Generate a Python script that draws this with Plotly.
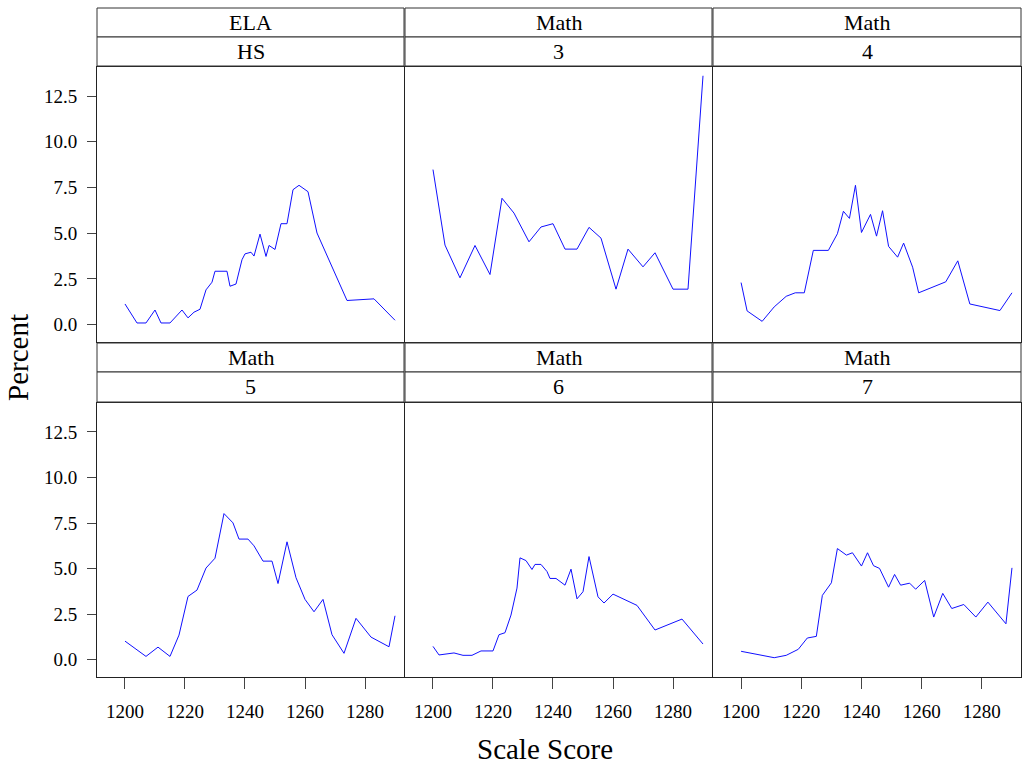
import plotly.graph_objects as go

# ---------------- data ----------------
ela_hs_x = [1200, 1204, 1207, 1210, 1212, 1215, 1219, 1221, 1223, 1225, 1227, 1229, 1230, 1234, 1235,
            1237, 1239, 1240, 1242, 1243, 1245, 1247, 1248, 1250, 1252, 1254, 1256, 1258, 1261, 1264,
            1274, 1283, 1290]
ela_hs_y = [1.13, 0.09, 0.09, 0.80, 0.09, 0.09, 0.80, 0.37, 0.68, 0.84, 1.90, 2.32, 2.92, 2.92, 2.10,
            2.22, 3.55, 3.87, 3.96, 3.75, 4.95, 3.73, 4.33, 4.11, 5.52, 5.52, 7.38, 7.62, 7.27, 5.01,
            1.32, 1.41, 0.24]

math3_x = [1200, 1204, 1209, 1214, 1219, 1223, 1227, 1232, 1236, 1240, 1244, 1248, 1252, 1256, 1261,
           1265, 1270, 1274, 1280, 1285, 1290]
math3_y = [8.48, 4.35, 2.56, 4.33, 2.74, 6.91, 6.10, 4.53, 5.34, 5.52, 4.13, 4.13, 5.32, 4.73, 1.94,
           4.13, 3.16, 3.93, 1.94, 1.94, 13.61]

math4_x = [1200, 1202, 1207, 1211, 1215, 1218, 1221, 1224, 1229, 1232, 1234, 1236, 1238, 1240, 1243,
           1245, 1247, 1249, 1252, 1254, 1257, 1259, 1268, 1272, 1276, 1286, 1290]
math4_y = [2.30, 0.75, 0.18, 0.97, 1.55, 1.74, 1.74, 4.06, 4.06, 4.97, 6.20, 5.81, 7.62, 5.04, 6.03,
           4.84, 6.23, 4.28, 3.69, 4.46, 3.14, 1.74, 2.34, 3.49, 1.13, 0.77, 1.74]

math5_x = [1200, 1207, 1211, 1215, 1218, 1221, 1224, 1227, 1230, 1233, 1236, 1238, 1241, 1243, 1246,
           1249, 1251, 1254, 1257, 1260, 1263, 1266, 1269, 1273, 1277, 1282, 1288, 1290]
math5_y = [1.02, 0.18, 0.69, 0.18, 1.35, 3.47, 3.82, 5.03, 5.57, 8.02, 7.51, 6.62, 6.62, 6.25, 5.41,
           5.41, 4.18, 6.47, 4.50, 3.31, 2.63, 3.31, 1.37, 0.35, 2.27, 1.24, 0.71, 2.41]

math6_x = [1200, 1202, 1207, 1210, 1213, 1216, 1220, 1222, 1224, 1226, 1228, 1229, 1231, 1233, 1234,
           1236, 1238, 1239, 1241, 1244, 1246, 1248, 1250, 1252, 1255, 1257, 1260, 1268, 1274, 1283, 1290]
math6_y = [0.73, 0.26, 0.37, 0.24, 0.24, 0.48, 0.48, 1.37, 1.48, 2.45, 3.93, 5.59, 5.44, 4.95, 5.23,
           5.23, 4.84, 4.46, 4.46, 4.09, 4.97, 3.34, 3.73, 5.66, 3.45, 3.11, 3.60, 2.98, 1.63, 2.23, 0.86]

math7_x = [1200, 1211, 1215, 1219, 1222, 1225, 1227, 1230, 1232, 1235, 1237, 1240, 1242, 1244, 1246,
           1249, 1251, 1253, 1256, 1258, 1261, 1264, 1267, 1270, 1274, 1278, 1282, 1288, 1290]
math7_y = [0.46, 0.11, 0.24, 0.57, 1.19, 1.28, 3.53, 4.22, 6.10, 5.74, 5.87, 5.14, 5.87, 5.16, 5.01,
           3.98, 4.68, 4.09, 4.20, 3.87, 4.35, 2.34, 3.64, 2.81, 3.03, 2.34, 3.16, 1.97, 5.04]

subjects = ["ELA", "Math", "Math", "Math", "Math", "Math"]
grades = ["HS", "3", "4", "5", "6", "7"]
series_x = [ela_hs_x, math3_x, math4_x, math5_x, math6_x, math7_x]
series_y = [ela_hs_y, math3_y, math4_y, math5_y, math6_y, math7_y]

x_ticks = [1200, 1220, 1240, 1260, 1280]
y_ticks = [0, 2.5, 5, 7.5, 10, 12.5]

# ---------------- layout geometry (pixels) ----------------
W, H = 1029, 769
L, R, T, B = 97, 1021, 8, 677
PW, PH = R - L, B - T

def fx(p):
    return (p - L) / PW

def fy(p):
    return (B - p) / PH

col_px = [(97, 404), (405, 712), (713, 1021)]
row_px = [(67, 342), (403, 677)]                       # panel top/bottom
strip_px = [((8, 37), (37, 66)), ((343, 372), (372, 402))]

FONT = "Liberation Serif, Times New Roman, serif"
FS_TICK = 19
FS_STRIP = 22
FS_TITLE = 29

fig = go.Figure()
shapes = []
annotations = []

for i in range(6):
    r, c = divmod(i, 3)
    idx = i + 1
    xa = "x" if idx == 1 else f"x{idx}"
    ya = "y" if idx == 1 else f"y{idx}"
    fig.add_trace(go.Scatter(x=series_x[i], y=series_y[i], mode="lines",
                             line=dict(color="#1010ff", width=1),
                             xaxis=xa, yaxis=ya, showlegend=False, hoverinfo="skip"))
    x0, x1 = col_px[c]
    ytop, ybot = row_px[r]
    xkey = "xaxis" if idx == 1 else f"xaxis{idx}"
    ykey = "yaxis" if idx == 1 else f"yaxis{idx}"
    show_x = (r == 1)
    show_y = (c == 0)
    fig.layout[xkey] = dict(
        domain=[fx(x0), fx(x1)], anchor=ya, range=[1190.67, 1293],
        showgrid=False, zeroline=False, showline=True, mirror=True,
        linecolor="#222", linewidth=1,
        tickvals=x_ticks if show_x else [], ticks="outside" if show_x else "",
        ticklen=11, tickcolor="#444", tickwidth=1, showticklabels=show_x,
        ticklabelstandoff=6,
        tickfont=dict(family=FONT, size=FS_TICK, color="black"), fixedrange=True)
    fig.layout[ykey] = dict(
        domain=[fy(ybot), fy(ytop)], anchor=xa, range=[-0.95, 14.09],
        showgrid=False, zeroline=False, showline=True, mirror=True,
        linecolor="#222", linewidth=1,
        tickvals=y_ticks if show_y else [], ticks="outside" if show_y else "",
        ticklen=9, tickcolor="#444", tickwidth=1, showticklabels=show_y,
        tickformat=".1f", ticklabelstandoff=6,
        tickfont=dict(family=FONT, size=FS_TICK, color="black"), fixedrange=True)

    # strips
    (s1a, s1b), (s2a, s2b) = strip_px[r]
    for (sa, sb), label in (((s1a, s1b), subjects[i]), ((s2a, s2b), grades[i])):
        shapes.append(dict(type="rect", xref="paper", yref="paper",
                           x0=fx(x0), x1=fx(x1), y0=fy(sb), y1=fy(sa),
                           fillcolor="white", line=dict(color="#333", width=1)))
        annotations.append(dict(text=label, xref="paper", yref="paper",
                                x=fx((x0 + x1) / 2), y=fy((sa + sb) / 2),
                                xanchor="center", yanchor="middle", showarrow=False,
                                font=dict(family=FONT, size=FS_STRIP, color="black")))

annotations.append(dict(text="Percent", xref="paper", yref="paper",
                        x=fx(18), y=fy(358), textangle=-90,
                        xanchor="center", yanchor="middle", showarrow=False,
                        font=dict(family=FONT, size=FS_TITLE, color="black")))
annotations.append(dict(text="Scale Score", xref="paper", yref="paper",
                        x=fx(545), y=fy(749),
                        xanchor="center", yanchor="middle", showarrow=False,
                        font=dict(family=FONT, size=FS_TITLE, color="black")))

fig.update_layout(
    width=W, height=H,
    margin=dict(l=L, r=W - R, t=T, b=H - B, pad=0),
    paper_bgcolor="white", plot_bgcolor="white",
    shapes=shapes, annotations=annotations,
    font=dict(family=FONT, size=FS_TICK, color="black"),
    showlegend=False,
)

fig.write_html("out.html", config={"displayModeBar": False})
